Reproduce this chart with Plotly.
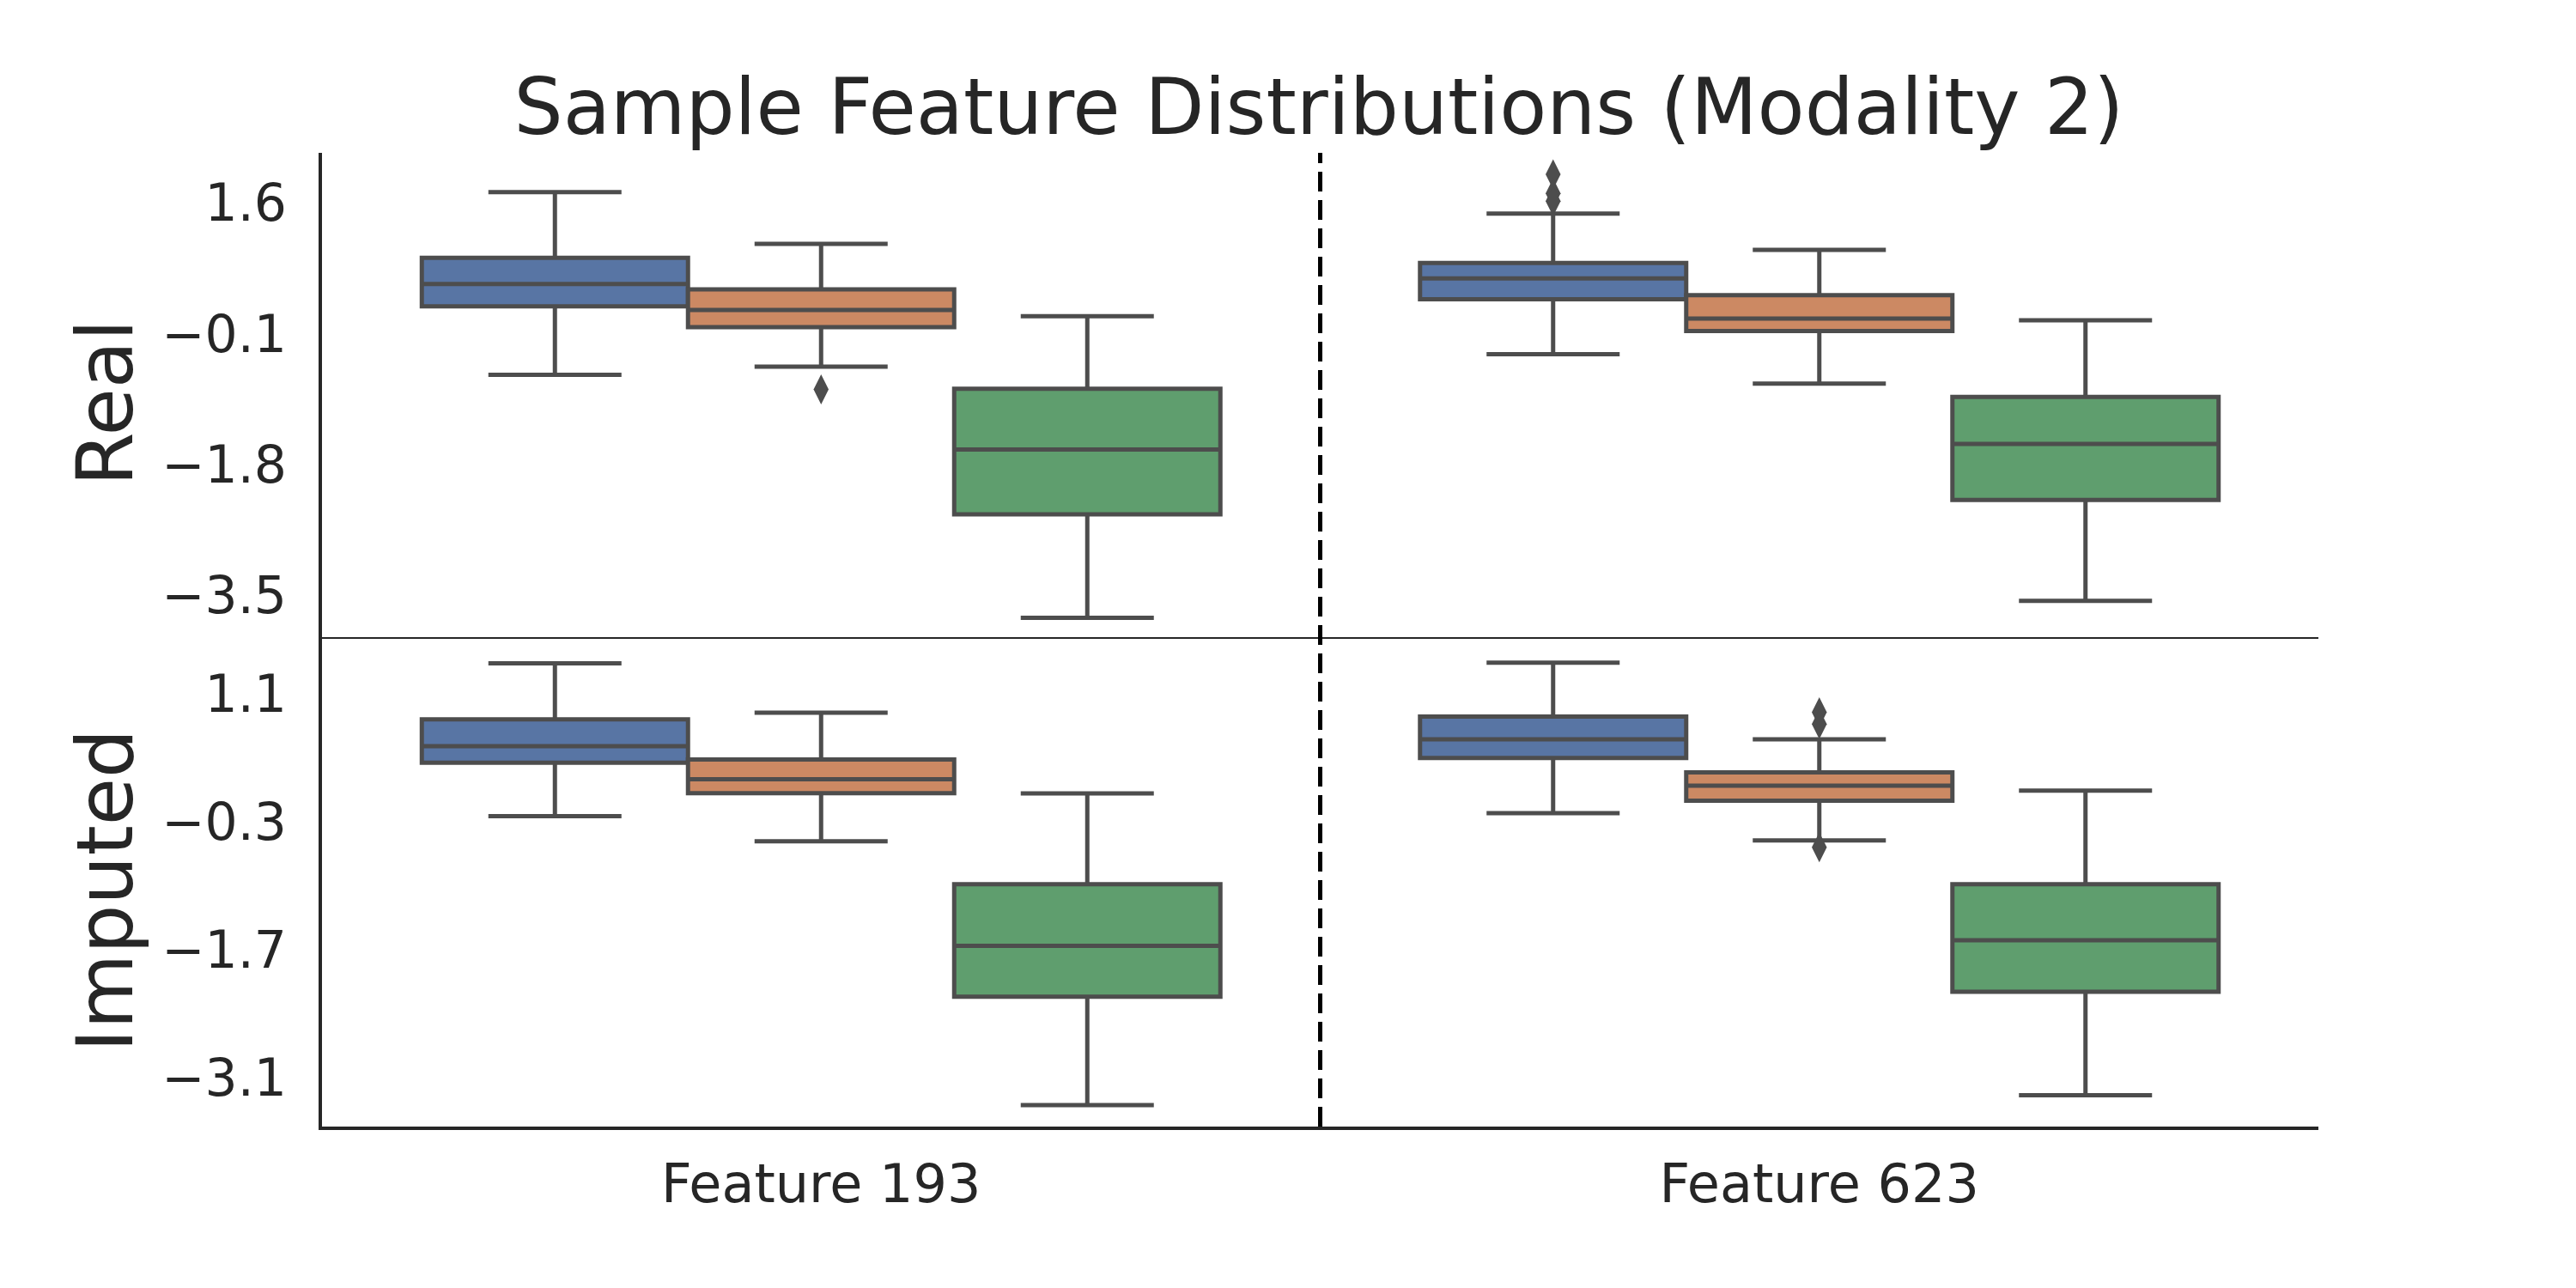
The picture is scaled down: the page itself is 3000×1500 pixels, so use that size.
import plotly.graph_objects as go

# ---------------- data ----------------
features = ["Feature 193", "Feature 623"]
row_titles = ["Real", "Imputed"]
group_names = ["Group A", "Group B", "Group C"]
group_colors = ["#5875a4", "#cc8963", "#5f9e6e"]

# Real panel box statistics, indexed [group][feature]
real_lower = [[-0.635, -0.366], [-0.528, -0.750], [-3.790, -3.571]]
real_q1 = [[0.254, 0.348], [-0.015, -0.067], [-2.447, -2.259]]
real_median = [[0.544, 0.617], [0.207, 0.096], [-1.605, -1.532]]
real_q3 = [[0.886, 0.818], [0.476, 0.400], [-0.815, -0.921]]
real_upper = [[1.737, 1.460], [1.066, 0.989], [0.126, 0.074]]
real_outliers = [[[], [1.97, 1.72, 1.62]], [[-0.823], []], [[], []]]

# Imputed panel box statistics, indexed [group][feature]
imp_lower = [[-0.238, -0.205], [-0.515, -0.504], [-3.404, -3.296]]
imp_q1 = [[0.348, 0.399], [0.014, -0.069], [-2.217, -2.163]]
imp_median = [[0.528, 0.604], [0.165, 0.096], [-1.659, -1.598]]
imp_q3 = [[0.823, 0.852], [0.381, 0.240], [-0.983, -0.983]]
imp_upper = [[1.435, 1.442], [0.895, 0.604], [0.010, 0.042]]
imp_outliers = [[[], []], [[], [0.90, 0.77, -0.58]], [[], []]]

real_ticks = [1.6, -0.1, -1.8, -3.5]
imp_ticks = [1.1, -0.3, -1.7, -3.1]
title_text = "Sample Feature Distributions (Modality 2)"

# ---------------- styling ----------------
FONT = "DejaVu Sans"
TEXT = "#262626"
EDGE = "#4d4d4d"
box_w = 0.8 / 3
W, H = 2992, 1492   # page body has an 8px margin

def fmt(v):
    s = f"{v:.1f}"
    return s.replace("-", "\u2212")

fig = go.Figure()

panels = [
    ("x2", "y2", real_lower, real_q1, real_median, real_q3, real_upper, real_outliers),
    ("x", "y", imp_lower, imp_q1, imp_median, imp_q3, imp_upper, imp_outliers),
]

for xa, ya, lo, q1, med, q3, up, outl in panels:
    for gi in range(3):
        xs = [fi + (gi - 1) * box_w for fi in range(len(features))]
        fig.add_trace(go.Box(
            x=xs, q1=q1[gi], median=med[gi], q3=q3[gi],
            lowerfence=lo[gi], upperfence=up[gi],
            width=box_w, whiskerwidth=0.5,
            fillcolor=group_colors[gi],
            line=dict(color=EDGE, width=5),
            boxpoints=False, name=group_names[gi], showlegend=False,
            xaxis=xa, yaxis=ya,
        ))
        ox, oy = [], []
        for fi in range(len(features)):
            for v in outl[gi][fi]:
                ox.append(fi + (gi - 1) * box_w)
                oy.append(v)
        if oy:
            fig.add_trace(go.Scatter(
                x=ox, y=oy, mode="markers",
                marker=dict(symbol="diamond-tall", size=25, color=EDGE,
                            line=dict(width=0)),
                showlegend=False, xaxis=xa, yaxis=ya,
            ))

split = 0.5026

common_y = dict(
    showline=True, linewidth=4, linecolor=TEXT, showgrid=False, zeroline=False,
    ticks="outside", ticklen=25, tickcolor="rgba(0,0,0,0)",
    tickfont=dict(family=FONT, size=60, color=TEXT),
)

fig.update_layout(
    width=W, height=H,
    margin=dict(l=367, r=300, t=170, b=188),
    template="none",
    paper_bgcolor="white", plot_bgcolor="white",
    showlegend=False,
    title=dict(text=title_text, x=(1536 - 8) / W, xanchor="center",
               y=1 - 116 / H, yanchor="middle", yref="container",
               font=dict(family=FONT, size=90, color=TEXT)),
    xaxis=dict(domain=[0, 1], anchor="y", range=[-0.5, 1.5],
               tickvals=list(range(len(features))), ticktext=features,
               showline=True, linewidth=4, linecolor=TEXT,
               showgrid=False, zeroline=False,
               ticks="outside", ticklen=10, tickcolor="rgba(0,0,0,0)",
               tickfont=dict(family=FONT, size=62, color=TEXT)),
    xaxis2=dict(domain=[0, 1], anchor="y2", matches="x", range=[-0.5, 1.5],
                showticklabels=False, ticks="",
                showline=True, linewidth=2, linecolor=TEXT,
                showgrid=False, zeroline=False),
    yaxis=dict(domain=[0, split], anchor="x", range=[-3.639, 1.722],
               tickvals=imp_ticks, ticktext=[fmt(v) for v in imp_ticks],
               **common_y),
    yaxis2=dict(domain=[split, 1], anchor="x2", range=[-4.042, 2.248],
                tickvals=real_ticks, ticktext=[fmt(v) for v in real_ticks],
                **common_y),
    shapes=[dict(type="line", xref="x", yref="paper", x0=0.5, x1=0.5,
                 y0=0, y1=1, line=dict(color="black", width=5, dash="23px,10px"),
                 layer="above")],
    annotations=[
        dict(text=row_titles[0], xref="paper", yref="paper",
             x=(122 - 375) / 2325, y=(1312 - 469) / 1134, textangle=-90,
             xanchor="center", yanchor="middle", showarrow=False,
             font=dict(family=FONT, size=90, color=TEXT)),
        dict(text=row_titles[1], xref="paper", yref="paper",
             x=(122 - 375) / 2325, y=(1312 - 1037) / 1134, textangle=-90,
             xanchor="center", yanchor="middle", showarrow=False,
             font=dict(family=FONT, size=90, color=TEXT)),
    ],
)

fig.write_html("out.html")
